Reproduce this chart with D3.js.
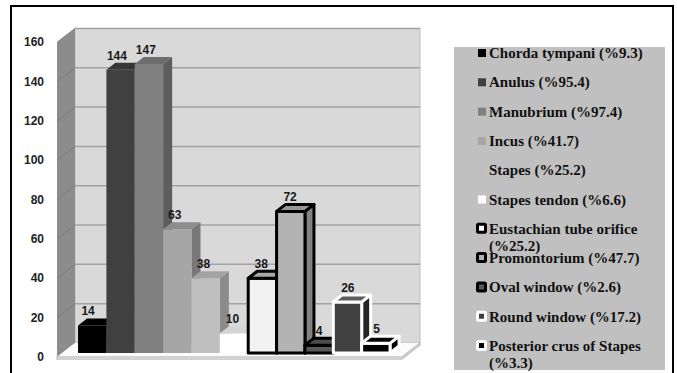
<!DOCTYPE html>
<html>
<head>
<meta charset="utf-8">
<script src="https://cdn.jsdelivr.net/npm/d3@7"></script>
<style>
  body { margin: 0; background: #fff; }
  svg { display: block; }
</style>
</head>
<body>
<div id="chart"></div>
<script>
// values
const series = ["Chorda tympani", "Anulus", "Manubrium", "Incus", "Stapes", "Stapes tendon",
    "Eustachian tube orifice", "Promontorium", "Oval window", "Round window", "Posterior crus of Stapes"];
const counts = [14, 144, 147, 63, 38, 10, 38, 72, 4, 26, 5];
const percents = ["9.3", "95.4", "97.4", "41.7", "25.2", "6.6", "25.2", "47.7", "2.6", "17.2", "3.3"];
const yTicks = [0, 20, 40, 60, 80, 100, 120, 140, 160];

// fill / outline per series
const fills = ["#000000", "#404040", "#808080", "#a6a6a6", "#bfbfbf", "#ffffff",
    "#f2f2f2", "#b3b3b3", "#595959", "#404040", "#000000"];
const outlines = [null, null, null, null, null, null, "#000", "#000", "#000", "#fff", "#fff"];

const width = 677, height = 373;
const svg = d3.select("#chart").append("svg")
    .attr("width", width)
    .attr("height", height);

// 3d layout: z is depth in px (screen y offset), x is front plane coord
const depth = 14, dxPerZ = 18 / 14;
const floorX0 = 57, floorX1 = 402;
const y = d3.scaleLinear().domain([0, 160]).range([357, 42.4]);
const x = d3.scaleBand().domain(series).range([72.9, 384.9]).padding(0);
const P = (px, v, z) => [px + z * dxPerZ, y(v) - z];
const poly = pts => pts.map(p => p.join(",")).join(" ");

// outer frame
svg.append("rect")
    .attr("x", 11).attr("y", 6)
    .attr("width", 662).attr("height", 400)
    .attr("fill", "#fff").attr("stroke", "#000").attr("stroke-width", 2);

// back wall
svg.append("polygon")
    .attr("points", poly([P(floorX0, 0, depth), P(floorX1, 0, depth), P(floorX1, 160, depth), P(floorX0, 160, depth)]))
    .attr("fill", "#d9d9d9").attr("stroke", "#bdbdbd").attr("stroke-width", 1);

// left wall
svg.append("polygon")
    .attr("points", poly([P(floorX0, 0, 0), P(floorX0, 0, depth), P(floorX0, 160, depth), P(floorX0, 160, 0)]))
    .attr("fill", "#8c8c8c");

// gridlines
yTicks.filter(d => d > 0).forEach(v => {
    svg.append("line")
        .attr("x1", P(floorX0, v, depth)[0]).attr("y1", P(floorX0, v, depth)[1])
        .attr("x2", P(floorX1, v, depth)[0]).attr("y2", P(floorX1, v, depth)[1])
        .attr("stroke", "#a3a3a3").attr("stroke-width", 1.5);
    svg.append("line")
        .attr("x1", P(floorX0, v, 0)[0]).attr("y1", P(floorX0, v, 0)[1])
        .attr("x2", P(floorX0, v, depth)[0]).attr("y2", P(floorX0, v, depth)[1])
        .attr("stroke", "#7d7d7d").attr("stroke-width", 1);
});

// floor
svg.append("polygon")
    .attr("points", poly([P(floorX0, 0, 0), P(floorX1, 0, 0), P(floorX1, 0, depth), P(floorX0, 0, depth)]))
    .attr("fill", "#fbfbfb");
svg.append("polygon")
    .attr("points", poly([P(floorX0, 0, 0), P(floorX1, 0, 0), P(floorX1, 0, depth),
        [P(floorX1, 0, depth)[0], P(floorX1, 0, depth)[1] + 2], [P(floorX1, 0, 0)[0], P(floorX1, 0, 0)[1] + 2],
        [P(floorX0, 0, 0)[0], P(floorX0, 0, 0)[1] + 2]]))
    .attr("fill", "none").attr("stroke", "#c4c4c4").attr("stroke-width", 1.5);

// y axis labels
svg.append("g").selectAll("text")
    .data(yTicks)
    .join("text")
    .attr("x", 44)
    .attr("y", d => y(d) + 4)
    .attr("text-anchor", "end")
    .attr("font-family", "Liberation Sans, Arial, sans-serif")
    .attr("font-weight", "bold")
    .attr("font-size", 12)
    .attr("fill", "#222")
    .text(d => d);

// bars
const z0 = 4, z1 = 11;
const bars = svg.append("g");
series.forEach((s, i) => {
    const v = counts[i];
    const xa = x(s), xb = x(s) + x.bandwidth();
    const base = d3.color(fills[i]);
    let top = base.darker(0.45), side = base.darker(0.9);
    if (i === 5) { top = d3.color("#d4d4d4"); side = d3.color("#b0b0b0"); }
    if (i === 6) { top = d3.color("#a8a8a8"); side = d3.color("#8c8c8c"); }
    if (i === 9) { top = d3.color("#5c5c5c"); side = d3.color("#262626"); }
    if (i === 10) { top = d3.color("#000"); side = d3.color("#000"); }
    const g = bars.append("g")
        .attr("stroke", outlines[i] || "none")
        .attr("stroke-width", outlines[i] ? 3 : 0)
        .attr("stroke-linejoin", "round");
    g.append("polygon")
        .attr("points", poly([P(xb, 0, z0), P(xb, v, z0), P(xb, v, z1), P(xb, 0, z1)]))
        .attr("fill", side);
    g.append("polygon")
        .attr("points", poly([P(xa, 0, z0), P(xb, 0, z0), P(xb, v, z0), P(xa, v, z0)]))
        .attr("fill", base);
    g.append("polygon")
        .attr("points", poly([P(xa, v, z0), P(xb, v, z0), P(xb, v, z1), P(xa, v, z1)]))
        .attr("fill", top);
});

// value labels
svg.append("g").selectAll("text")
    .data(series)
    .join("text")
    .attr("x", (d, i) => x(d) + x.bandwidth() / 2 + 1 + i * 0.5)
    .attr("y", (d, i) => P(0, counts[i], z0)[1] - 10)
    .attr("text-anchor", "middle")
    .attr("font-family", "Liberation Sans, Arial, sans-serif")
    .attr("font-weight", "bold")
    .attr("font-size", 12)
    .attr("fill", "#1a1a1a")
    .text((d, i) => counts[i]);

// legend
const legend = svg.append("g");
legend.append("rect")
    .attr("x", 454).attr("y", 47)
    .attr("width", 211).attr("height", 323)
    .attr("fill", "#c0c0c0");

const maxTextW = 168;
series.forEach((s, i) => {
    const cy = 53 + i * 29.3;
    if (outlines[i]) {
        legend.append("rect")
            .attr("x", 477.5).attr("y", cy - 4.5)
            .attr("width", 8).attr("height", 8)
            .attr("rx", 1)
            .attr("fill", i === 6 ? "#fff" : fills[i])
            .attr("stroke", outlines[i]).attr("stroke-width", 3);
    } else {
        legend.append("rect")
            .attr("x", 478).attr("y", cy - 4)
            .attr("width", 8).attr("height", 8)
            .attr("fill", fills[i]);
    }
    const t = legend.append("text")
        .attr("x", 489).attr("y", cy + 5)
        .attr("font-family", "Liberation Serif, Times New Roman, serif")
        .attr("font-weight", "bold")
        .attr("font-size", 15)
        .attr("fill", "#111");
    // wrap words onto a second line when too wide
    const words = `${s} (%${percents[i]})`.split(" ");
    let line = [], tspan = t.append("tspan").attr("x", 489);
    words.forEach(w => {
        line.push(w);
        tspan.text(line.join(" "));
        if (tspan.node().getComputedTextLength() > maxTextW && line.length > 1) {
            line.pop();
            tspan.text(line.join(" "));
            line = [w];
            tspan = t.append("tspan").attr("x", 489).attr("dy", 17).text(w);
        }
    });
});
</script>
</body>
</html>
